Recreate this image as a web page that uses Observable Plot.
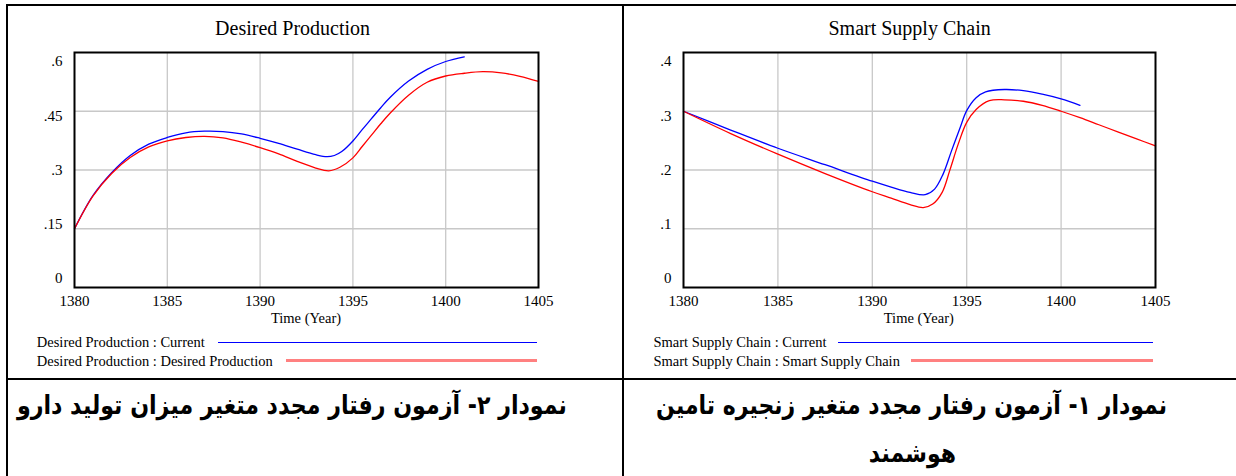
<!DOCTYPE html>
<html>
<head>
<meta charset="utf-8">
<script src="https://cdn.jsdelivr.net/npm/d3@7"></script>
<script src="https://cdn.jsdelivr.net/npm/@observablehq/plot@0.6"></script>
<style>
  body { margin: 0; background: #fff; }
  #root { position: relative; width: 1236px; height: 476px; overflow: hidden; background: #fff;
          font-family: "Liberation Serif", "Times New Roman", serif; color: #000; }
  .rule { position: absolute; background: #000; }
  .title { position: absolute; font-size: 20px; line-height: 20px; white-space: nowrap; }
  .xlabel { position: absolute; font-size: 14.5px; line-height: 14.5px; white-space: nowrap; }
  .legtext { position: absolute; font-size: 14.5px; line-height: 14.5px; white-space: nowrap; }
  .legline { position: absolute; }
  .cap { position: absolute; font-family: "DejaVu Sans", sans-serif; font-weight: bold; font-size: 26px;
         line-height: 34px; white-space: nowrap; direction: rtl; transform-origin: 50% 50%; }
</style>
</head>
<body>
<div id="root"></div>
<script>
// ---------- data ----------
const xTicks = [1380, 1385, 1390, 1395, 1400, 1405];
const dpYTicks = [0, 0.15, 0.3, 0.45, 0.6];
const sscYTicks = [0, 0.1, 0.2, 0.3, 0.4];

const dpTitle = "Desired Production";
const sscTitle = "Smart Supply Chain";
const xLabel = "Time (Year)";
const dpLegend = ["Desired Production : Current", "Desired Production : Desired Production"];
const sscLegend = ["Smart Supply Chain : Current", "Smart Supply Chain : Smart Supply Chain"];

const dpYearsCurrent = [1380,1381,1382,1383,1384,1385,1386,1387,1388,1389,1390,1391,1392,1393,1393.6,1394,1394.4,1395,1395.5,1396,1396.5,1397,1398,1399,1400,1401];
const dpCurrent      = [0.150,0.235,0.293,0.337,0.366,0.383,0.395,0.399,0.398,0.392,0.381,0.368,0.353,0.339,0.334,0.337,0.347,0.374,0.403,0.431,0.459,0.485,0.527,0.557,0.577,0.589];

const dpYearsDesired = [1380,1381,1382,1383,1384,1385,1386,1387,1388,1389,1390,1391,1392,1393,1393.7,1394.3,1395,1395.5,1396,1396.5,1397,1398,1399,1400,1401,1402,1403,1404,1405];
const dpDesired      = [0.150,0.234,0.291,0.332,0.359,0.3745,0.383,0.386,0.382,0.371,0.357,0.341,0.322,0.305,0.298,0.307,0.331,0.360,0.389,0.418,0.445,0.491,0.524,0.540,0.547,0.551,0.548,0.539,0.526];

const sscYearsCurrent = [1380,1382.5,1385,1387.5,1390,1391,1392,1392.8,1393.3,1393.75,1394.2,1394.65,1395,1395.5,1396,1397,1398,1399,1400,1401];
const sscCurrent      = [0.300,0.268,0.237,0.209,0.181,0.171,0.162,0.158,0.1675,0.193,0.233,0.272,0.301,0.323,0.333,0.337,0.335,0.329,0.321,0.310];

const sscYearsChain = [1380,1382.5,1385,1387.5,1390,1391,1392,1392.7,1393.2,1393.7,1394.1,1394.55,1395,1395.5,1396.2,1397,1398,1399,1400,1401,1402,1403,1404,1405];
const sscChain      = [0.300,0.262,0.227,0.194,0.163,0.152,0.141,0.136,0.142,0.162,0.199,0.244,0.281,0.303,0.318,0.3195,0.317,0.310,0.300,0.289,0.277,0.265,0.253,0.241];

const captionLeft = "نمودار ۲- آزمون رفتار مجدد متغیر میزان تولید دارو";
const captionRight = ["نمودار ۱- آزمون رفتار مجدد متغیر زنجیره تامین", "هوشمند"];

// ---------- helpers ----------
const root = document.getElementById("root");
const zip = (xs, ys) => xs.map((x, i) => ({year: x, value: ys[i]}));
const fmt = d => d === 0 ? "0" : String(d).replace(/^0/, "");

function rule(x, y, w, h) {
  const d = document.createElement("div");
  d.className = "rule";
  Object.assign(d.style, {left: x + "px", top: y + "px", width: w + "px", height: h + "px"});
  root.appendChild(d);
}
function textAt(cls, text, x, y, center) {
  const d = document.createElement("div");
  d.className = cls;
  d.textContent = text;
  d.style.left = x + "px";
  d.style.top = y + "px";
  root.appendChild(d);
  if (center) d.style.left = (x - d.getBoundingClientRect().width / 2) + "px";
  return d;
}
function legLine(x1, x2, y, h, color) {
  const d = document.createElement("div");
  d.className = "legline";
  Object.assign(d.style, {left: x1 + "px", top: (y - h / 2) + "px", width: (x2 - x1) + "px", height: h + "px", background: color});
  root.appendChild(d);
}

function makeChart({current, other, yTicks, width, marginLeft, marginRight}) {
  const yAxes = yTicks.map((t, i) => Plot.axisY([t], {
    tickSize: 0, tickPadding: 12, dy: (i - 2) * 4.5, fontSize: 15, tickFormat: fmt, label: null
  }));
  return Plot.plot({
    width, height: 290, marginTop: 12, marginBottom: 43, marginLeft, marginRight,
    style: {fontFamily: "Liberation Serif, serif", color: "#000", background: "transparent", overflow: "visible"},
    x: {domain: [xTicks[0], xTicks[xTicks.length - 1]]},
    y: {domain: [yTicks[0], yTicks[yTicks.length - 1]]},
    marks: [
      Plot.gridX(xTicks.slice(1, -1), {stroke: "#c8c8c8", strokeOpacity: 1, strokeWidth: 1.3}),
      Plot.gridY(yTicks.slice(1, -1), {stroke: "#c8c8c8", strokeOpacity: 1, strokeWidth: 1.3}),
      Plot.axisX(xTicks, {tickSize: 0, tickPadding: 8, fontSize: 15, tickFormat: d => String(d), label: null}),
      ...yAxes,
      Plot.line(current, {x: "year", y: "value", stroke: "#0000ff", strokeWidth: 1.3, curve: "catmull-rom"}),
      Plot.line(other, {x: "year", y: "value", stroke: "#ff0000", strokeWidth: 1.3, curve: "catmull-rom"}),
      Plot.frame({stroke: "#000", strokeWidth: 2})
    ]
  });
}

// ---------- table rules ----------
rule(6, 4, 1230, 2);      // top
rule(6, 4, 2, 472);       // left
rule(622, 4, 2, 472);     // middle
rule(6, 378, 1230, 2);    // row divider

// ---------- charts ----------
const left = makeChart({current: zip(dpYearsCurrent, dpCurrent), other: zip(dpYearsDesired, dpDesired),
  yTicks: dpYTicks, width: 622, marginLeft: 74, marginRight: 84});
Object.assign(left.style, {position: "absolute", left: "0px", top: "40px"});
root.appendChild(left);

const right = makeChart({current: zip(sscYearsCurrent, sscCurrent), other: zip(sscYearsChain, sscChain),
  yTicks: sscYTicks, width: 614, marginLeft: 61, marginRight: 81});
Object.assign(right.style, {position: "absolute", left: "622px", top: "40px"});
root.appendChild(right);

// ---------- titles, axis labels, legends ----------
textAt("title", dpTitle, 292.6, 18, true);
textAt("title", sscTitle, 909.6, 18, true);
textAt("xlabel", xLabel, 306, 311, true);
textAt("xlabel", xLabel, 918.8, 311, true);

textAt("legtext", dpLegend[0], 36.8, 335.4);
textAt("legtext", dpLegend[1], 36.8, 353.6);
legLine(217.5, 536.6, 342.3, 1.5, "#0000ff");
legLine(285.9, 536.6, 360.7, 2.5, "#ff8080");

textAt("legtext", sscLegend[0], 653.4, 335.4);
textAt("legtext", sscLegend[1], 653.4, 353.6);
legLine(838, 1153, 342.3, 1.5, "#0000ff");
legLine(910.8, 1153, 360.7, 2.5, "#ff8080");

// ---------- captions ----------
function caption(text, cx, cy) {
  const d = document.createElement("div");
  d.className = "cap";
  d.textContent = text;
  root.appendChild(d);
  const w = d.getBoundingClientRect().width;
  d.style.left = (cx - w / 2) + "px";
  d.style.top = (cy - 17) + "px";
  return {el: d, w};
}
const c1 = caption(captionLeft, 292, 405);
c1.el.style.transform = `scaleX(${550 / c1.w})`;
const c2 = caption(captionRight[0], 912, 405);
const k2 = 511 / c2.w;
c2.el.style.transform = `scaleX(${k2})`;
const c3 = caption(captionRight[1], 912, 453);
c3.el.style.transform = `scaleX(${k2})`;
</script>
</body>
</html>
